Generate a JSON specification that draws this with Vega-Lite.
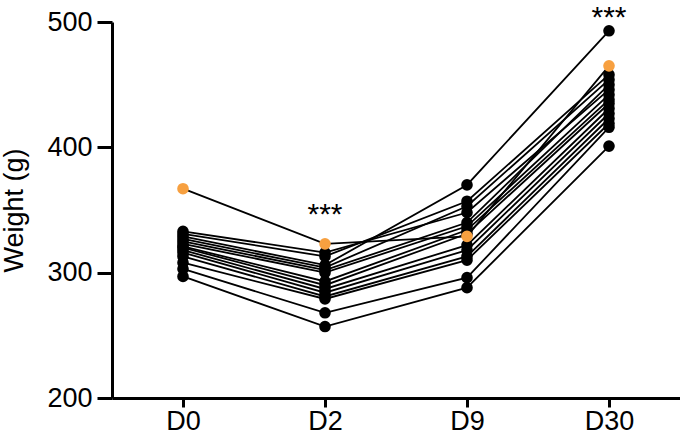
{
  "$schema": "https://vega.github.io/schema/vega-lite/v6.json",
  "width": 568,
  "height": 376,
  "autosize": {"type": "none"},
  "padding": {"left": 112, "top": 22, "right": 0, "bottom": 47},
  "background": "white",
  "config": {"view": {"stroke": null}, "font": "Liberation Sans"},
  "datasets": {
    "w": [
      {"id": 1, "day": "D0", "t": 0, "w": 333, "g": "b"}, {"id": 1, "day": "D2", "t": 1, "w": 316, "g": "b"}, {"id": 1, "day": "D9", "t": 2, "w": 348, "g": "b"}, {"id": 1, "day": "D30", "t": 3, "w": 446, "g": "b"},
      {"id": 2, "day": "D0", "t": 0, "w": 331, "g": "b"}, {"id": 2, "day": "D2", "t": 1, "w": 313, "g": "b"}, {"id": 2, "day": "D9", "t": 2, "w": 357, "g": "b"}, {"id": 2, "day": "D30", "t": 3, "w": 458, "g": "b"},
      {"id": 3, "day": "D0", "t": 0, "w": 329, "g": "b"}, {"id": 3, "day": "D2", "t": 1, "w": 306, "g": "b"}, {"id": 3, "day": "D9", "t": 2, "w": 370, "g": "b"}, {"id": 3, "day": "D30", "t": 3, "w": 493, "g": "b"},
      {"id": 4, "day": "D0", "t": 0, "w": 327, "g": "b"}, {"id": 4, "day": "D2", "t": 1, "w": 304, "g": "b"}, {"id": 4, "day": "D9", "t": 2, "w": 353, "g": "b"}, {"id": 4, "day": "D30", "t": 3, "w": 454, "g": "b"},
      {"id": 5, "day": "D0", "t": 0, "w": 325, "g": "b"}, {"id": 5, "day": "D2", "t": 1, "w": 302, "g": "b"}, {"id": 5, "day": "D9", "t": 2, "w": 340, "g": "b"}, {"id": 5, "day": "D30", "t": 3, "w": 450, "g": "b"},
      {"id": 6, "day": "D0", "t": 0, "w": 323, "g": "b"}, {"id": 6, "day": "D2", "t": 1, "w": 300, "g": "b"}, {"id": 6, "day": "D9", "t": 2, "w": 337, "g": "b"}, {"id": 6, "day": "D30", "t": 3, "w": 442, "g": "b"},
      {"id": 7, "day": "D0", "t": 0, "w": 321, "g": "b"}, {"id": 7, "day": "D2", "t": 1, "w": 293, "g": "b"}, {"id": 7, "day": "D9", "t": 2, "w": 334, "g": "b"}, {"id": 7, "day": "D30", "t": 3, "w": 438, "g": "b"},
      {"id": 8, "day": "D0", "t": 0, "w": 320, "g": "b"}, {"id": 8, "day": "D2", "t": 1, "w": 290, "g": "b"}, {"id": 8, "day": "D9", "t": 2, "w": 331, "g": "b"}, {"id": 8, "day": "D30", "t": 3, "w": 435, "g": "b"},
      {"id": 9, "day": "D0", "t": 0, "w": 318, "g": "b"}, {"id": 9, "day": "D2", "t": 1, "w": 287, "g": "b"}, {"id": 9, "day": "D9", "t": 2, "w": 322, "g": "b"}, {"id": 9, "day": "D30", "t": 3, "w": 431, "g": "b"},
      {"id": 10, "day": "D0", "t": 0, "w": 316, "g": "b"}, {"id": 10, "day": "D2", "t": 1, "w": 284, "g": "b"}, {"id": 10, "day": "D9", "t": 2, "w": 318, "g": "b"}, {"id": 10, "day": "D30", "t": 3, "w": 427, "g": "b"},
      {"id": 11, "day": "D0", "t": 0, "w": 313, "g": "b"}, {"id": 11, "day": "D2", "t": 1, "w": 281, "g": "b"}, {"id": 11, "day": "D9", "t": 2, "w": 313, "g": "b"}, {"id": 11, "day": "D30", "t": 3, "w": 423, "g": "b"},
      {"id": 12, "day": "D0", "t": 0, "w": 308, "g": "b"}, {"id": 12, "day": "D2", "t": 1, "w": 279, "g": "b"}, {"id": 12, "day": "D9", "t": 2, "w": 310, "g": "b"}, {"id": 12, "day": "D30", "t": 3, "w": 419, "g": "b"},
      {"id": 13, "day": "D0", "t": 0, "w": 303, "g": "b"}, {"id": 13, "day": "D2", "t": 1, "w": 268, "g": "b"}, {"id": 13, "day": "D9", "t": 2, "w": 296, "g": "b"}, {"id": 13, "day": "D30", "t": 3, "w": 416, "g": "b"},
      {"id": 14, "day": "D0", "t": 0, "w": 297, "g": "b"}, {"id": 14, "day": "D2", "t": 1, "w": 257, "g": "b"}, {"id": 14, "day": "D9", "t": 2, "w": 288, "g": "b"}, {"id": 14, "day": "D30", "t": 3, "w": 401, "g": "b"},
      {"id": 15, "day": "D0", "t": 0, "w": 367, "g": "o"}, {"id": 15, "day": "D2", "t": 1, "w": 323, "g": "o"}, {"id": 15, "day": "D9", "t": 2, "w": 329, "g": "o"}, {"id": 15, "day": "D30", "t": 3, "w": 465, "g": "o"}
    ],
    "stars": [
      {"day": "D2", "w": 346, "label": "***"},
      {"day": "D30", "w": 503, "label": "***"}
    ]
  },
  "encoding": {
    "x": {
      "field": "day", "type": "ordinal",
      "scale": {"domain": ["D0", "D2", "D9", "D30"], "type": "point", "padding": 0.5},
      "axis": {"title": null, "labelAngle": 0, "labelFontSize": 27, "labelColor": "black", "labelPadding": 1, "domainColor": "black", "domainWidth": 3, "tickColor": "black", "tickWidth": 3, "tickSize": 9}
    },
    "y": {
      "field": "w", "type": "quantitative",
      "scale": {"domain": [200, 500], "nice": false, "zero": false},
      "axis": {"title": "Weight (g)", "values": [200, 300, 400, 500], "grid": false, "labelFontSize": 27, "labelColor": "black", "labelPadding": 5, "titleFontSize": 27, "titleFontWeight": "normal", "titleColor": "black", "titlePadding": 18, "domainColor": "black", "domainWidth": 3, "tickColor": "black", "tickWidth": 3, "tickSize": 15}
    }
  },
  "layer": [
    {
      "data": {"name": "w"},
      "mark": {"type": "line", "color": "black", "strokeWidth": 1.8},
      "encoding": {"detail": {"field": "id"}, "order": {"field": "t", "type": "quantitative"}}
    },
    {
      "data": {"name": "w"},
      "mark": {"type": "circle", "size": 135, "opacity": 1},
      "encoding": {
        "color": {"field": "g", "type": "nominal", "scale": {"domain": ["b", "o"], "range": ["black", "#F7A040"]}, "legend": null},
        "order": {"field": "g"}
      }
    },
    {
      "data": {"name": "stars"},
      "mark": {"type": "text", "fontSize": 30, "color": "black", "baseline": "middle"},
      "encoding": {"text": {"field": "label"}}
    }
  ]
}
